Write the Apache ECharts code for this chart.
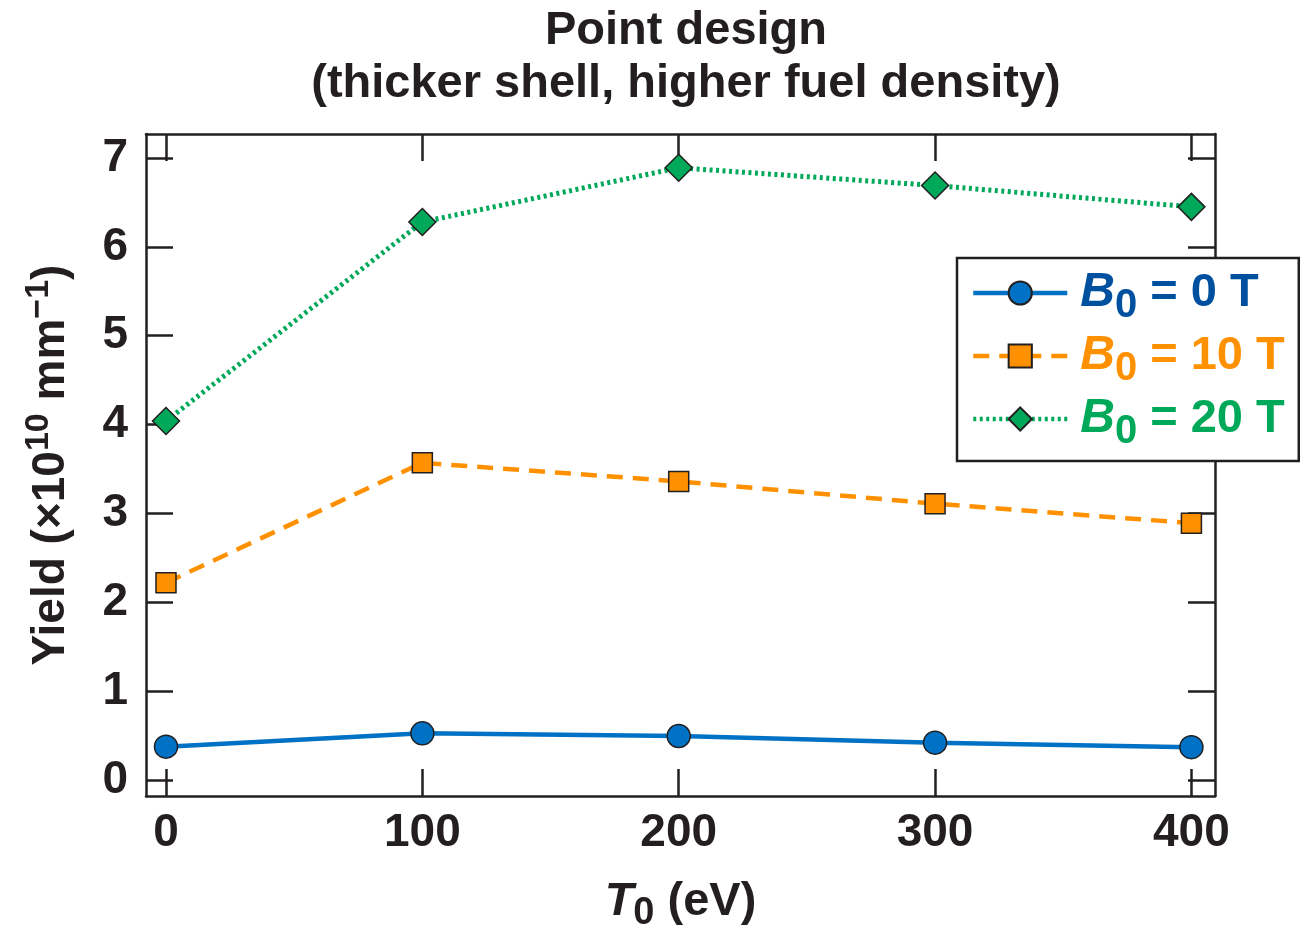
<!DOCTYPE html>
<html>
<head>
<meta charset="utf-8">
<script src="https://cdn.jsdelivr.net/npm/echarts@6/dist/echarts.min.js"></script>
<style>
html,body{margin:0;padding:0;background:#fff;}
#chart{width:1307px;height:934px;}
</style>
</head>
<body>
<div id="chart"></div>
<script>
// ---- data ----
const temperatures = [0, 100, 200, 300, 400];
const yieldB0 = [0.375, 0.525, 0.495, 0.42, 0.37];
const yieldB10 = [2.22, 3.57, 3.36, 3.11, 2.89];
const yieldB20 = [4.04, 6.28, 6.89, 6.69, 6.45];
const seriesNames = ['B0 = 0 T', 'B0 = 10 T', 'B0 = 20 T'];
const xTicks = [0, 100, 200, 300, 400];
const yTicks = [0, 1, 2, 3, 4, 5, 6, 7];

const INK = '#231F20';
const FONT = '"Liberation Sans", Arial, Helvetica, sans-serif';
const BLUE = '#0072C6', ORANGE = '#FF9100', GREEN = '#00A859';
const BLUE_TXT = '#0050A0';

function pairs(xs, ys) { return xs.map((x, i) => [x, ys[i]]); }

const chart = echarts.init(document.getElementById('chart'), null, {renderer: 'canvas'});

const xMin = -7.8, xMax = 409.2, yMin = -0.18, yMax = 7.27;

function axisBase(extra) {
  return Object.assign({
    type: 'value',
    axisLine: {show: true, onZero: false, lineStyle: {color: INK, width: 2.5}},
    axisTick: {show: true, inside: true, length: 27, lineStyle: {color: INK, width: 2.5}},
    splitLine: {show: false}
  }, extra);
}

function legendStyles(color, i) {
  const r = {};
  r['b' + i] = {fontFamily: FONT, fontWeight: 'bold', fontStyle: 'italic', fontSize: 48, color: color, padding: [0,0,0,8]};
  r['s' + i] = {fontFamily: FONT, fontWeight: 'bold', fontSize: 40, color: color, padding: [26,0,0,0]};
  r['e' + i] = {fontFamily: FONT, fontWeight: 'bold', fontSize: 47, color: color};
  return r;
}
const legendRich = Object.assign({}, legendStyles(BLUE_TXT, 0), legendStyles(ORANGE, 1), legendStyles(GREEN, 2));

const option = {
  backgroundColor: '#fff',
  animation: false,
  title: {
    text: 'Point design\n(thicker shell, higher fuel density)',
    left: 681, top: 0, textAlign: 'center',
    textStyle: {fontFamily: FONT, fontWeight: 'bold', fontSize: 47, lineHeight: 53, color: INK}
  },
  grid: {left: 146, top: 134, width: 1069, height: 662, containLabel: false, outerBoundsMode: 'none'},
  xAxis: [
    axisBase({
      position: 'bottom', min: xMin, max: xMax,
      name: '{it|T}{sub|0}{n| (eV)}', nameLocation: 'middle', nameGap: 75,
      nameTextStyle: {rich: {
        it: {fontFamily: FONT, fontWeight: 'bold', fontStyle: 'italic', fontSize: 47, color: INK},
        sub: {fontFamily: FONT, fontWeight: 'bold', fontSize: 38, color: INK, padding: [24,0,0,0]},
        n: {fontFamily: FONT, fontWeight: 'bold', fontSize: 47, color: INK}
      }},
      axisTick: {show: true, inside: true, length: 27, customValues: xTicks, lineStyle: {color: INK, width: 2.5}},
      axisLabel: {show: true, customValues: xTicks, margin: 14, fontFamily: FONT, fontWeight: 'bold', fontSize: 46, color: INK}
    }),
    axisBase({
      position: 'top', min: xMin, max: xMax,
      axisTick: {show: true, inside: true, length: 27, customValues: xTicks, lineStyle: {color: INK, width: 2.5}},
      axisLabel: {show: false}
    })
  ],
  yAxis: [
    axisBase({
      position: 'left', min: yMin, max: yMax,
      name: '{t|Yield (×10}{sup|10}{t| mm}{sup|−1}{t|)}', nameLocation: 'middle', nameGap: 66, nameRotate: 90,
      nameTextStyle: {rich: {
        t: {fontFamily: FONT, fontWeight: 'bold', fontSize: 46, color: INK},
        sup: {fontFamily: FONT, fontWeight: 'bold', fontSize: 34, color: INK, padding: [0,0,24,0]}
      }},
      axisTick: {show: true, inside: true, length: 27, customValues: yTicks, lineStyle: {color: INK, width: 2.5}},
      axisLabel: {show: true, customValues: yTicks, margin: 18, fontFamily: FONT, fontWeight: 'bold', fontSize: 46, color: INK}
    }),
    axisBase({
      position: 'right', min: yMin, max: yMax,
      axisTick: {show: true, inside: true, length: 27, customValues: yTicks, lineStyle: {color: INK, width: 2.5}},
      axisLabel: {show: false}
    })
  ],
  legend: {
    orient: 'vertical',
    left: 957, top: 258,
    padding: [11, 14, 9, 14],
    itemGap: 6,
    itemWidth: 94, itemHeight: 29,
    backgroundColor: '#fff',
    borderColor: INK, borderWidth: 2.5, borderRadius: 0,
    lineStyle: {width: 4.5},
    data: seriesNames,
    formatter: function (name) {
      const i = seriesNames.indexOf(name);
      const rest = name.slice(2);
      return '{b' + i + '|B}{s' + i + '|0}{e' + i + '|' + rest + '}';
    },
    textStyle: {rich: legendRich}
  },
  series: [
    {
      name: seriesNames[0], type: 'line', xAxisIndex: 0, yAxisIndex: 0,
      data: pairs(temperatures, yieldB0),
      symbol: 'circle', symbolSize: 23,
      lineStyle: {color: BLUE, width: 4.5, type: 'solid'},
      itemStyle: {color: BLUE, borderColor: INK, borderWidth: 1.5},
      z: 3
    },
    {
      name: seriesNames[1], type: 'line', xAxisIndex: 0, yAxisIndex: 0,
      data: pairs(temperatures, yieldB10),
      symbol: 'rect', symbolSize: 20,
      lineStyle: {color: ORANGE, width: 4.5, type: [16, 10]},
      itemStyle: {color: ORANGE, borderColor: INK, borderWidth: 1.5},
      z: 3
    },
    {
      name: seriesNames[2], type: 'line', xAxisIndex: 0, yAxisIndex: 0,
      data: pairs(temperatures, yieldB20),
      symbol: 'diamond', symbolSize: [27, 27],
      lineStyle: {color: GREEN, width: 5, type: [3, 3.5]},
      itemStyle: {color: GREEN, borderColor: INK, borderWidth: 1.5},
      z: 3
    }
  ]
};
chart.setOption(option);
</script>
</body>
</html>
